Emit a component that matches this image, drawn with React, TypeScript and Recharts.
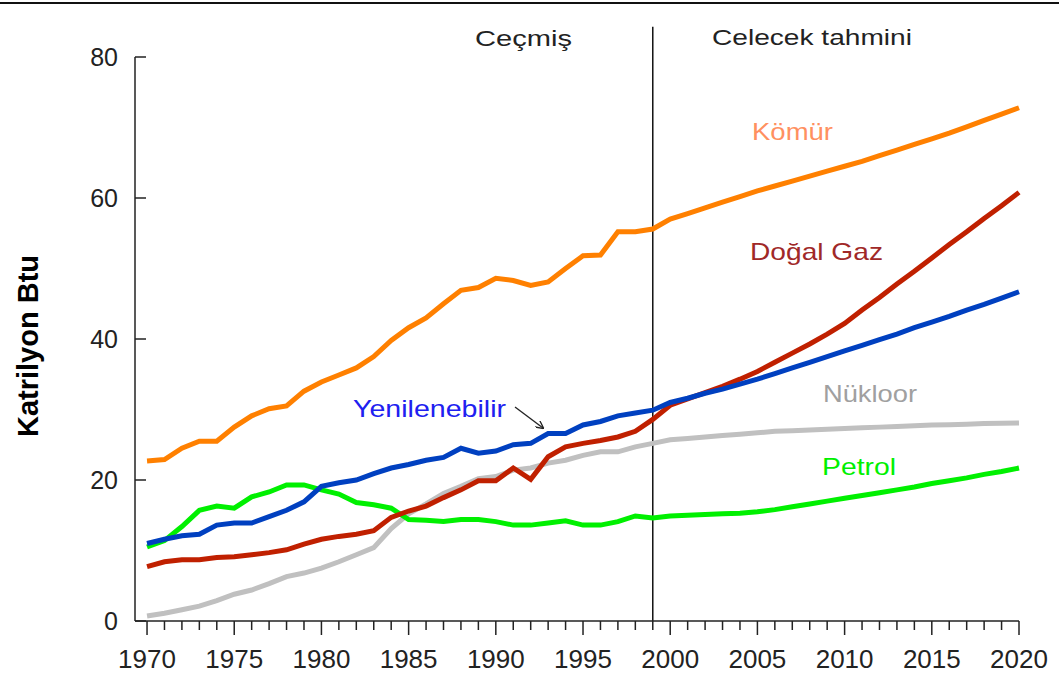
import { LineChart, Line, XAxis, YAxis, ReferenceLine } from 'recharts';

const years = [
  1970, 1971, 1972, 1973, 1974, 1975, 1976, 1977, 1978, 1979,
  1980, 1981, 1982, 1983, 1984, 1985, 1986, 1987, 1988, 1989,
  1990, 1991, 1992, 1993, 1994, 1995, 1996, 1997, 1998, 1999,
  2000, 2001, 2002, 2003, 2004, 2005, 2006, 2007, 2008, 2009,
  2010, 2011, 2012, 2013, 2014, 2015, 2016, 2017, 2018, 2019, 2020,
];

const komur = [
  22.7, 22.9, 24.5, 25.5, 25.5, 27.5, 29.1, 30.1, 30.5, 32.6,
  33.9, 34.9, 35.9, 37.5, 39.8, 41.6, 43.0, 45.0, 46.9, 47.3,
  48.6, 48.3, 47.6, 48.1, 50.0, 51.8, 51.9, 55.2, 55.2, 55.6,
  57.0, 57.8, 58.6, 59.4, 60.2, 61.0, 61.7, 62.4, 63.1, 63.8,
  64.5, 65.2, 66.0, 66.8, 67.6, 68.4, 69.2, 70.1, 71.0, 71.9, 72.8,
];

const dogalGaz = [
  7.7, 8.4, 8.7, 8.7, 9.0, 9.1, 9.4, 9.7, 10.1, 10.9,
  11.6, 12.0, 12.3, 12.8, 14.7, 15.6, 16.3, 17.5, 18.6, 19.9,
  19.9, 21.7, 20.1, 23.3, 24.7, 25.2, 25.6, 26.1, 26.9, 28.6,
  30.6, 31.5, 32.4, 33.3, 34.3, 35.4, 36.7, 38.0, 39.3, 40.7,
  42.2, 44.1, 45.9, 47.8, 49.6, 51.5, 53.4, 55.2, 57.1, 58.9, 60.8,
];

const yenilenebilir = [
  11.0, 11.6, 12.1, 12.3, 13.6, 13.9, 13.9, 14.8, 15.7, 16.9,
  19.1, 19.6, 20.0, 20.9, 21.7, 22.2, 22.8, 23.2, 24.5, 23.8,
  24.1, 25.0, 25.2, 26.6, 26.6, 27.8, 28.3, 29.1, 29.5, 29.9,
  31.0, 31.6, 32.3, 32.9, 33.6, 34.3, 35.1, 35.9, 36.7, 37.5,
  38.3, 39.1, 39.9, 40.7, 41.6, 42.4, 43.2, 44.1, 44.9, 45.8, 46.7,
];

const nukleer = [
  0.7, 1.1, 1.6, 2.1, 2.9, 3.8, 4.4, 5.3, 6.3, 6.8,
  7.5, 8.4, 9.4, 10.4, 13.1, 15.2, 16.6, 18.1, 19.1, 20.2,
  20.5, 21.4, 21.7, 22.4, 22.8, 23.5, 24.0, 24.0, 24.7, 25.2,
  25.7, 25.9, 26.1, 26.3, 26.5, 26.7, 26.9, 27.0, 27.1, 27.2,
  27.3, 27.4, 27.5, 27.6, 27.7, 27.8, 27.85, 27.9, 28.0, 28.05, 28.1,
];

const petrol = [
  10.5, 11.4, 13.4, 15.7, 16.3, 16.0, 17.6, 18.3, 19.3, 19.3,
  18.6, 18.0, 16.8, 16.5, 16.0, 14.4, 14.3, 14.1, 14.4, 14.4,
  14.1, 13.6, 13.6, 13.9, 14.2, 13.6, 13.6, 14.1, 14.9, 14.6,
  14.9, 15.0, 15.1, 15.2, 15.3, 15.5, 15.8, 16.2, 16.6, 17.0,
  17.4, 17.8, 18.2, 18.6, 19.0, 19.5, 19.9, 20.3, 20.8, 21.2, 21.7,
];

const yTicks = [0, 20, 40, 60, 80];
const forecastStart = 1999;

const data = years.map((year, i) => ({
  year,
  komur: komur[i],
  dogalGaz: dogalGaz[i],
  yenilenebilir: yenilenebilir[i],
  nukleer: nukleer[i],
  petrol: petrol[i],
}));

const FONT = '"Liberation Sans", Arial, sans-serif';

const XTick = ({ x, y, payload }: any) => {
  const major = payload.value % 5 === 0;
  return (
    <g>
      <line x1={x} y1={y} x2={x} y2={y + (major ? 14 : 9)} stroke="#222" strokeWidth={1.5} />
      {major && (
        <text x={x} y={y + 47} textAnchor="middle" fontSize={26} fill="#222" fontFamily={FONT}>
          {payload.value}
        </text>
      )}
    </g>
  );
};

const YTick = ({ x, y, payload }: any) => (
  <g>
    <line x1={x} y1={y} x2={x + 11} y2={y} stroke="#222" strokeWidth={1.5} />
    <text x={x - 17} y={y + 9} textAnchor="end" fontSize={25} fill="#222" fontFamily={FONT}>
      {payload.value}
    </text>
  </g>
);

const Label = ({ x, y, w, size, color, children }: any) => (
  <text x={x} y={y} fontSize={size} fill={color} fontFamily={FONT} textLength={w} lengthAdjust="spacingAndGlyphs">
    {children}
  </text>
);

export default function App() {
  return (
    <div style={{ position: 'absolute', left: 0, top: 0, width: 1059, height: 680, background: '#fff' }}>
      <div style={{ position: 'absolute', left: 0, top: 2, width: 1059, height: 2, background: '#111' }} />
      <LineChart width={1059} height={680} data={data} margin={{ top: 57, right: 40, left: 0, bottom: 0 }}>
        <XAxis
          dataKey="year"
          type="number"
          domain={[1969.31, 2020]}
          ticks={years}
          interval={0}
          height={59}
          tickSize={0}
          tickMargin={0}
          tickLine={false}
          axisLine={{ stroke: '#222', strokeWidth: 1.5 }}
          tick={<XTick />}
        />
        <YAxis
          type="number"
          domain={[0, 80]}
          ticks={yTicks}
          width={135}
          tickSize={0}
          tickMargin={0}
          tickLine={false}
          axisLine={{ stroke: '#222', strokeWidth: 1.5 }}
          tick={<YTick />}
        />
        <ReferenceLine
          segment={[{ x: forecastStart, y: 0 }, { x: forecastStart, y: 84.3 }]}
          ifOverflow="visible"
          stroke="#111"
          strokeWidth={1.5}
        />
        <Line type="linear" dataKey="nukleer" stroke="#C0C0C0" strokeWidth={5} dot={false} isAnimationActive={false} />
        <Line type="linear" dataKey="petrol" stroke="#00F000" strokeWidth={5} dot={false} isAnimationActive={false} />
        <Line type="linear" dataKey="dogalGaz" stroke="#C02000" strokeWidth={5} dot={false} isAnimationActive={false} />
        <Line type="linear" dataKey="yenilenebilir" stroke="#0040C0" strokeWidth={5} dot={false} isAnimationActive={false} />
        <Line type="linear" dataKey="komur" stroke="#FF8000" strokeWidth={5} dot={false} isAnimationActive={false} />
      </LineChart>
      <svg width={1059} height={680} style={{ position: 'absolute', left: 0, top: 0, pointerEvents: 'none' }}>
        <defs>
          <marker id="arr" markerWidth="8" markerHeight="8" refX="7" refY="4" orient="auto" markerUnits="userSpaceOnUse">
            <path d="M0,0 L8,4 L0,8" fill="none" stroke="#222" strokeWidth={1.3} />
          </marker>
        </defs>
        <text x={28} y={346} transform="rotate(-90 28 346)" textAnchor="middle" dominantBaseline="central"
          fontSize={29} fontWeight="bold" fill="#000" fontFamily={FONT}>
          Katrilyon Btu
        </text>
        <Label x={475} y={46} w={97} size={22} color="#222">Ceçmiş</Label>
        <Label x={712} y={45} w={200} size={22} color="#222">Celecek tahmini</Label>
        <Label x={752} y={140} w={81} size={24} color="#FF9060">Kömür</Label>
        <Label x={750} y={260} w={133} size={24} color="#A02828">Doğal Gaz</Label>
        <Label x={823} y={402} w={94} size={24} color="#A0A0A0">Nükloor</Label>
        <Label x={822} y={475} w={74} size={24} color="#00F000">Petrol</Label>
        <Label x={353} y={417} w={153} size={24} color="#2020F0">Yenilenebilir</Label>
        <line x1={515} y1={407} x2={543} y2={428} stroke="#222" strokeWidth={1.3} markerEnd="url(#arr)" />
      </svg>
    </div>
  );
}
